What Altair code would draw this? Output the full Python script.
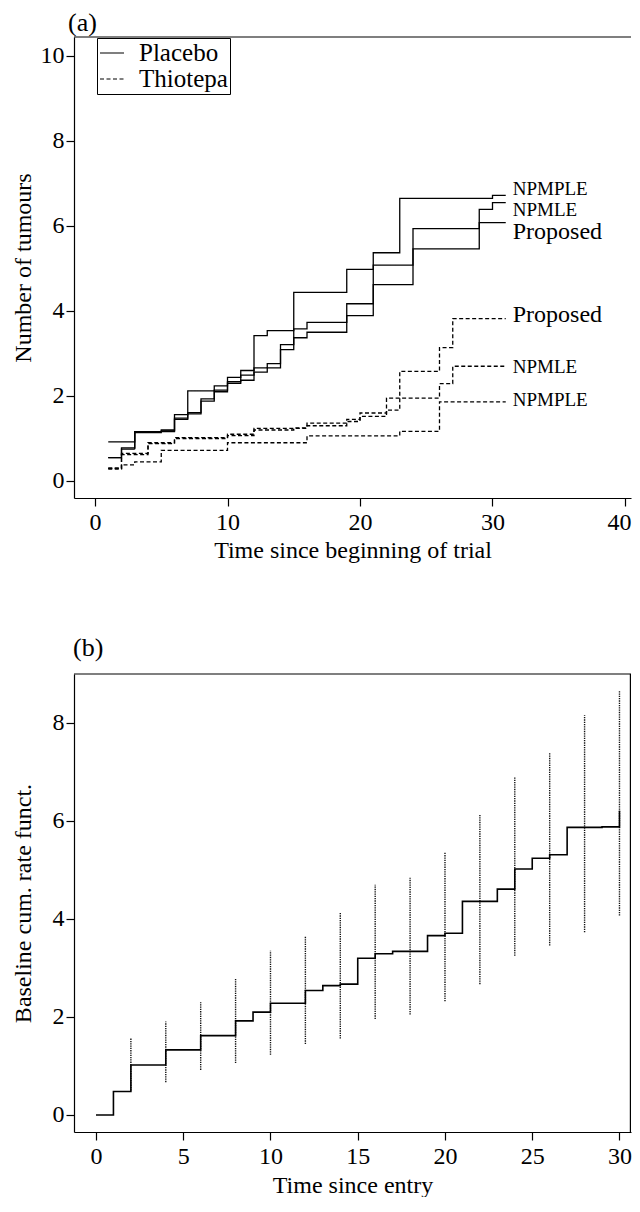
import altair as alt
import pandas as pd

FONT = "Liberation Serif"

# ---------------- panel (a): cumulative number of tumours ----------------
pla_npmple_t = [1, 2, 3, 6, 7, 9, 10, 11, 12, 13, 15, 19, 21, 23, 30, 31]
pla_npmple_v = [0.55, 0.75, 1.16, 1.56, 2.12, 2.24, 2.44, 2.60, 3.42, 3.54, 4.44, 4.98, 5.37, 6.65, 6.72, 6.72]

pla_npmle_t = [1, 2, 3, 5, 6, 7, 8, 9, 10, 11, 12, 13, 14, 15, 16, 19, 21, 24, 29, 30, 31]
pla_npmle_v = [0.55, 0.78, 1.16, 1.20, 1.48, 1.61, 1.93, 2.14, 2.34, 2.49, 2.66, 2.76, 3.21, 3.58, 3.73, 4.17, 5.08, 5.94, 6.39, 6.55, 6.55]

pla_prop_t = [1, 3, 5, 6, 7, 8, 9, 10, 11, 12, 13, 14, 15, 16, 19, 21, 24, 29, 31]
pla_prop_v = [0.92, 1.14, 1.18, 1.45, 1.58, 1.88, 2.10, 2.30, 2.37, 2.56, 2.66, 3.09, 3.37, 3.50, 3.89, 4.62, 5.46, 6.08, 6.08]

thi_npmple_t = [1, 2, 3, 5, 10, 16, 23, 26, 31]
thi_npmple_v = [0.28, 0.38, 0.45, 0.72, 0.90, 1.06, 1.17, 1.86, 1.86]

thi_npmle_t = [1, 2, 4, 6, 10, 12, 16, 19, 20, 22, 26, 27, 31]
thi_npmle_v = [0.30, 0.65, 0.90, 1.02, 1.10, 1.24, 1.36, 1.45, 1.60, 1.95, 2.29, 2.70, 2.70]

thi_prop_t = [1, 2, 4, 6, 10, 12, 15, 16, 19, 20, 22, 23, 26, 27, 31]
thi_prop_v = [0.30, 0.62, 0.88, 1.00, 1.07, 1.20, 1.25, 1.30, 1.40, 1.52, 1.67, 2.58, 3.14, 3.82, 3.82]

groups = ["Placebo", "Thiotepa"]
methods = ["NPMPLE", "NPMLE", "Proposed"]

# ---------------- panel (b): baseline cumulative rate ----------------
b_t = [0, 1, 2, 4, 6, 8, 9, 10, 12, 13, 14, 15, 16, 17, 19, 20, 21, 23, 24, 25, 26, 27, 29, 30]
b_v = [0, 0.48, 1.02, 1.33, 1.62, 1.92, 2.10, 2.28, 2.54, 2.64, 2.67, 3.20, 3.29, 3.34, 3.66, 3.71,
       4.36, 4.61, 5.02, 5.24, 5.31, 5.87, 5.88, 6.21]

ci_t = [2, 4, 6, 8, 10, 12, 14, 16, 18, 20, 22, 24, 26, 28, 30]
ci_lo = [0.50, 0.67, 0.92, 1.06, 1.23, 1.45, 1.56, 1.96, 2.05, 2.32, 2.67, 3.25, 3.46, 3.73, 4.07]
ci_hi = [1.57, 1.91, 2.30, 2.78, 3.35, 3.64, 4.12, 4.70, 4.84, 5.36, 6.13, 6.89, 7.40, 8.16, 8.66]

# ---------------- build tables ----------------
series = {
    ("Placebo", "NPMPLE"): (pla_npmple_t, pla_npmple_v),
    ("Placebo", "NPMLE"): (pla_npmle_t, pla_npmle_v),
    ("Placebo", "Proposed"): (pla_prop_t, pla_prop_v),
    ("Thiotepa", "NPMPLE"): (thi_npmple_t, thi_npmple_v),
    ("Thiotepa", "NPMLE"): (thi_npmle_t, thi_npmle_v),
    ("Thiotepa", "Proposed"): (thi_prop_t, thi_prop_v),
}
rows = []
ends = []
for (g, m), (ts, vs) in series.items():
    for t, v in zip(ts, vs):
        rows.append({"group": g, "method": m, "key": g + m, "t": t, "v": v})
    ends.append({"group": g, "method": m, "key": g + m, "t": ts[-1], "v": vs[-1]})
df_a = pd.DataFrame(rows)
df_end = pd.DataFrame(ends)

df_b = pd.DataFrame({"t": b_t, "v": b_v})
df_ci = pd.DataFrame({"t": ci_t, "lo": ci_lo, "hi": ci_hi})
one = pd.DataFrame({"k": [0]})

# label styles: (vertical offset px, font size)
label_style = {
    ("Placebo", "NPMPLE"): (-6, 19),
    ("Placebo", "NPMLE"): (7, 19),
    ("Placebo", "Proposed"): (9, 24),
    ("Thiotepa", "Proposed"): (-4, 24),
    ("Thiotepa", "NPMLE"): (1, 19),
    ("Thiotepa", "NPMPLE"): (-2, 19),
}

WA, HA = 557, 461
WB, HB = 557, 458

xa = alt.X("t:Q", scale=alt.Scale(domain=[-1.585, 40.453], nice=False, zero=False),
           axis=alt.Axis(values=[0, 10, 20, 30, 40], title="Time since beginning of trial",
                         labelFlush=10, labelFlushOffset=6, titlePadding=4))
ya = alt.Y("v:Q", scale=alt.Scale(domain=[-0.4, 10.447], nice=False, zero=False),
           axis=alt.Axis(values=[0, 2, 4, 6, 8, 10], title="Number of tumours"))

lines_a = alt.Chart(df_a).mark_line(interpolate="step-after", color="black", strokeWidth=1.3).encode(
    x=xa, y=ya,
    detail="key:N",
    strokeDash=alt.StrokeDash(
        "group:N",
        scale=alt.Scale(domain=groups, range=[[1, 0], [4, 2.5]]),
        legend=alt.Legend(title=None, orient="none", legendX=23, legendY=1),
    ),
)

texts = []
for (g, m), (dy, fs) in label_style.items():
    texts.append(
        alt.Chart(df_end).transform_filter(
            (alt.datum.group == g) & (alt.datum.method == m)
        ).mark_text(align="left", baseline="middle", dx=7, dy=dy, font=FONT, fontSize=fs, color="black")
        .encode(x="t:Q", y="v:Q", text="method:N")
    )

top_a = alt.Chart(one).mark_rule(color="black", strokeWidth=1.2).encode(y=alt.value(0))

chart_a = alt.layer(lines_a, *texts, top_a).properties(
    width=WA, height=HA,
    title=alt.TitleParams("(a)", anchor="start", frame="group", fontSize=26, font=FONT,
                          fontWeight="normal", offset=0, dx=-6, color="black"),
)

xb_scale = alt.Scale(domain=[-1.26, 30.66], nice=False, zero=False)
yb_scale = alt.Scale(domain=[-0.347, 9.0], nice=False, zero=False)

ci_b = alt.Chart(df_ci).mark_rule(color="#111111", strokeWidth=1.4, strokeDash=[1.3, 1.0]).encode(
    x=alt.X("t:Q", scale=xb_scale),
    y=alt.Y("lo:Q", scale=yb_scale),
    y2="hi:Q",
)
step_b = alt.Chart(df_b).mark_line(interpolate="step-after", color="black", strokeWidth=1.6).encode(
    x=alt.X("t:Q", scale=xb_scale,
            axis=alt.Axis(values=[0, 5, 10, 15, 20, 25, 30], title="Time since entry",
                          labelPadding=4, titlePadding=5)),
    y=alt.Y("v:Q", scale=yb_scale,
            axis=alt.Axis(values=[0, 2, 4, 6, 8], title="Baseline cum. rate funct.")),
)
top_b = alt.Chart(one).mark_rule(color="black", strokeWidth=1.2).encode(y=alt.value(0))
right_b = alt.Chart(one).mark_rule(color="black", strokeWidth=1.2).encode(x=alt.value(WB - 0.6))

chart_b = alt.layer(ci_b, step_b, top_b, right_b).properties(
    width=WB, height=HB,
    title=alt.TitleParams("(b)", anchor="start", frame="group", fontSize=26, font=FONT,
                          fontWeight="normal", offset=12, dx=-1, color="black"),
)

chart = alt.vconcat(chart_a, chart_b, spacing=73).properties(
    padding={"left": 3, "top": 2, "right": 0, "bottom": 0}
).configure_view(stroke=None).configure_axis(
    labelFont=FONT, titleFont=FONT, labelFontSize=24, titleFontSize=24,
    titleFontWeight="normal", labelColor="black", titleColor="black",
    domainColor="black", tickColor="black", domainWidth=1.2, tickWidth=1.2,
    tickSize=8, grid=False,
).configure_axisY(
    labelPadding=2, minExtent=33, maxExtent=33, titlePadding=6,
).configure_axisX(
    labelPadding=4,
).configure_legend(
    strokeColor="black", padding=2, labelFont=FONT, labelFontSize=25, labelColor="black",
    symbolType="stroke", symbolStrokeWidth=1.2, symbolSize=576, symbolStrokeColor="black",
    rowPadding=-5, fillColor="white", cornerRadius=0, labelOffset=14,
)

chart.save("out.html", embed_options={"renderer": "svg", "actions": False})
